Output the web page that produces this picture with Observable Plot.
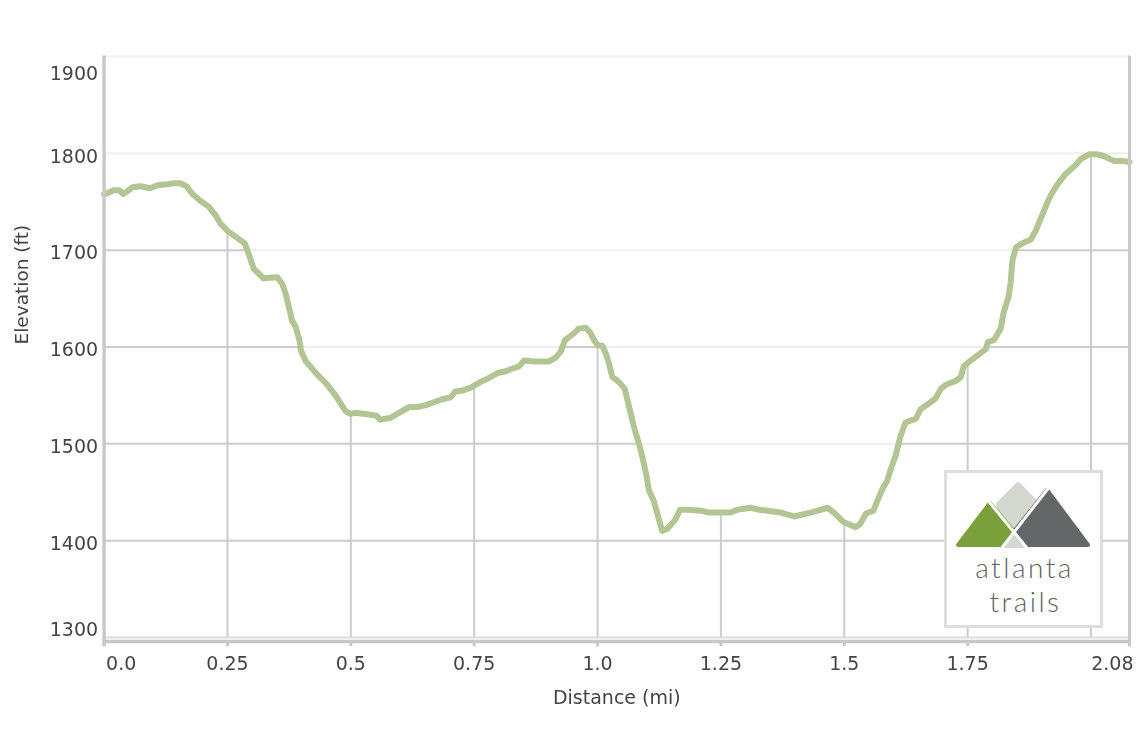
<!DOCTYPE html>
<html>
<head>
<meta charset="utf-8">
<script src="https://cdn.jsdelivr.net/npm/d3@7"></script>
<script src="https://cdn.jsdelivr.net/npm/@observablehq/plot@0.6"></script>
<style>
  html, body { margin: 0; padding: 0; background: #fff; }
  #wrap { position: relative; width: 1140px; height: 732px; overflow: hidden; }
  #logo { position: absolute; left: 944px; top: 470px; }
</style>
</head>
<body>
<div id="wrap">
  <div id="chart"></div>
  <svg id="logo" width="159" height="158" viewBox="0 0 159 158">
    <rect x="1.5" y="1.5" width="156" height="155" fill="#fff" stroke="#dedede" stroke-width="3"/>
    <polygon points="74,14 94,34 84,76 57,76 54,34" fill="#d5d7d1" stroke="#d5d7d1" stroke-width="4" stroke-linejoin="round"/>
    <polygon points="103,20 144,75 82,75 70,61.5" fill="#636768" stroke="#636768" stroke-width="4" stroke-linejoin="round"/>
    <polygon points="46,33 70,61.5 58,75 14,75" fill="#7aa03c" stroke="#7aa03c" stroke-width="4" stroke-linejoin="round"/>
    <polyline points="44,30.5 83,78" fill="none" stroke="#fff" stroke-width="3"/>
    <polyline points="104.5,18 57.7,78" fill="none" stroke="#fff" stroke-width="3"/>
    <text text-anchor="middle" font-family="Lato, 'Open Sans', sans-serif" font-weight="300" font-size="28" letter-spacing="2.5" fill="#5f6364"><tspan x="80.5" y="108">atlanta</tspan><tspan x="81.5" y="142">trails</tspan></text>
  </svg>
</div>
<script>
// Distance along the trail (miles)
const distance = [0,0.003,0.020,0.030,0.039,0.050,0.057,0.074,0.094,0.108,
  0.128,0.141,0.155,0.167,0.179,0.195,0.212,0.226,0.235,0.250,
  0.266,0.285,0.293,0.303,0.323,0.351,0.361,0.368,0.376,0.381,
  0.388,0.396,0.399,0.408,0.429,0.449,0.469,0.479,0.489,0.499,
  0.510,0.540,0.552,0.560,0.581,0.601,0.618,0.635,0.652,0.668,
  0.685,0.702,0.712,0.726,0.743,0.763,0.780,0.797,0.814,0.824,
  0.841,0.851,0.871,0.901,0.915,0.925,0.934,0.952,0.962,0.976,
  0.985,0.993,1.000,1.010,1.017,1.023,1.030,1.043,1.055,1.064,
  1.074,1.084,1.091,1.100,1.104,1.114,1.121,1.131,1.141,1.158,
  1.167,1.182,1.209,1.226,1.250,1.270,1.283,1.310,1.327,1.371,
  1.398,1.432,1.466,1.479,1.499,1.523,1.532,1.544,1.559,1.567,
  1.577,1.587,1.593,1.604,1.614,1.624,1.645,1.655,1.675,1.685,
  1.696,1.706,1.726,1.736,1.742,1.756,1.772,1.787,1.791,1.803,
  1.817,1.823,1.833,1.837,1.841,1.848,1.861,1.878,1.888,1.895,
  1.905,1.912,1.922,1.935,1.949,1.969,1.979,1.996,2.013,2.027,
  2.047,2.064,2.078];

// Elevation (feet)
const elevation = [1758,1758,1762,1762,1758,1762,1765,1766,1764,1767,
  1768,1769,1769,1766,1758,1751,1745,1736,1728,1720,
  1714,1707,1696,1681,1671,1672,1665,1655,1638,1627,
  1621,1607,1596,1586,1573,1563,1550,1542,1534,1531,
  1532,1530,1529,1525,1527,1533,1538,1538,1540,1543,
  1546,1548,1554,1555,1558,1564,1568,1573,1575,1577,
  1580,1586,1585,1585,1589,1595,1607,1614,1619,1620,
  1615,1607,1602,1601,1593,1583,1569,1564,1557,1538,
  1517,1500,1486,1465,1452,1441,1428,1410,1412,1422,
  1432,1432,1431,1429,1429,1429,1432,1434,1432,1429,
  1425,1429,1434,1429,1419,1414,1417,1428,1431,1441,
  1453,1462,1472,1488,1508,1522,1526,1536,1543,1547,
  1557,1561,1565,1569,1580,1586,1592,1598,1605,1607,
  1619,1636,1652,1666,1690,1703,1707,1711,1720,1729,
  1741,1750,1760,1770,1779,1788,1794,1799,1799,1797,
  1792,1792,1791];

const yTicks = [1300, 1400, 1500, 1600, 1700, 1800, 1900];
const xTicks = [0, 0.25, 0.5, 0.75, 1.0, 1.25, 1.5, 1.75];
const xTickLabels = ["0.0", "0.25", "0.5", "0.75", "1.0", "1.25", "1.5", "1.75"];
const xGrid = [0.25, 0.5, 0.75, 1.0, 1.25, 1.5, 1.75, 2.0];
const xEnd = 2.078;
const xEndLabel = "2.08";
const xTitle = "Distance (mi)";
const yTitle = "Elevation (ft)";

const data = distance.map((d, i) => ({d, e: elevation[i]}));
const xLab = xTicks.map((v, i) => ({v, label: xTickLabels[i]}));

const gridDark = "#cccccc";
const gridLight = "#efefef";
const axisC = "#c8c8c8";
const textC = "#444444";
const font = '"DejaVu Sans", Verdana, sans-serif';
const fs = 19;

const chart = Plot.plot({
  width: 1140,
  height: 732,
  marginLeft: 103.6,
  marginRight: 11,
  marginTop: 56,
  marginBottom: 95,
  x: {domain: [0, xEnd], axis: null},
  y: {domain: [1300, 1900], axis: null},
  style: {fontFamily: font, background: "white", overflow: "visible"},
  marks: [
    Plot.ruleY(yTicks.slice(1, 6), {stroke: gridDark, strokeWidth: 2}),
    Plot.ruleY([yTicks[0]], {stroke: "#dcdcdc", strokeWidth: 2}),
    Plot.ruleX(xGrid, {y1: 1300, y2: 1900, stroke: gridDark, strokeWidth: 2}),
    Plot.areaY(data, {x: "d", y1: "e", y2: 1900, fill: "white"}),
    Plot.ruleY(yTicks.slice(1), {stroke: gridLight, strokeWidth: 2, mixBlendMode: "darken"}),
    Plot.line(data, {x: "d", y: "e", stroke: "#b2c593", strokeWidth: 6, strokeLinejoin: "round", strokeLinecap: "round"}),
    // axis lines
    Plot.ruleX([0], {y1: 1290.5, y2: 1900.5, stroke: axisC, strokeWidth: 3.5}),
    Plot.ruleX([xEnd], {y1: 1290.5, y2: 1900.5, stroke: axisC, strokeWidth: 3}),
    Plot.ruleY([1300], {dy: 4, stroke: axisC, strokeWidth: 3.5}),
    Plot.ruleX([...xTicks, xEnd], {y1: 1290.5, y2: 1296, stroke: axisC, strokeWidth: 3}),
    // y tick labels
    Plot.text(yTicks.slice(1, 6), {x: 0, y: d => d, text: d => String(d), textAnchor: "end", dx: -6, dy: 9.3, lineAnchor: "bottom", fill: textC, fontSize: fs}),
    Plot.text([yTicks[6]], {x: 0, y: d => d, text: d => String(d), textAnchor: "end", dx: -6, dy: 23, lineAnchor: "bottom", fill: textC, fontSize: fs}),
    Plot.text([yTicks[0]], {x: 0, y: d => d, text: d => String(d), textAnchor: "end", dx: -6, dy: -2, lineAnchor: "bottom", fill: textC, fontSize: fs}),
    // x tick labels
    Plot.text(xLab.slice(0, 1), {x: "v", y: 1300, text: "label", textAnchor: "start", dx: 2, dy: 32, lineAnchor: "bottom", fill: textC, fontSize: fs}),
    Plot.text(xLab.slice(1), {x: "v", y: 1300, text: "label", dy: 32, lineAnchor: "bottom", fill: textC, fontSize: fs}),
    Plot.text([xEndLabel], {x: xEnd, y: 1300, text: d => d, textAnchor: "end", dx: 4, dy: 32, lineAnchor: "bottom", fill: textC, fontSize: fs}),
    // titles
    Plot.text([xTitle], {frameAnchor: "bottom", text: d => d, dy: 66, lineAnchor: "bottom", fill: textC, fontSize: fs}),
    Plot.text([yTitle], {frameAnchor: "left", text: d => d, rotate: -90, dx: -82.3, dy: -2.5, fill: textC, fontSize: 18.5})
  ]
});
document.getElementById("chart").appendChild(chart);
</script>
</body>
</html>
